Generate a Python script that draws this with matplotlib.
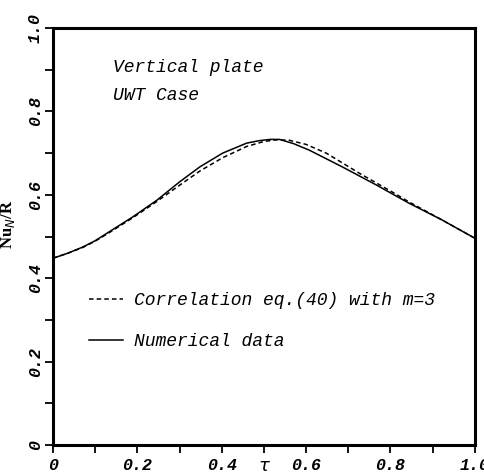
import numpy as np
import matplotlib
matplotlib.use('Agg')
from matplotlib import pyplot as plt

# values
tau_num = [0.0, 0.035, 0.071, 0.100, 0.128, 0.189, 0.246, 0.300, 0.348,
           0.402, 0.459, 0.489, 0.515, 0.537, 0.570, 0.608, 0.686, 0.766,
           0.844, 0.922, 1.0]
nu_num = [0.448, 0.460, 0.475, 0.490, 0.508, 0.547, 0.587, 0.631, 0.667,
          0.700, 0.724, 0.730, 0.733, 0.733, 0.723, 0.707, 0.667, 0.624,
          0.580, 0.540, 0.496]

tau_corr = [0.0, 0.035, 0.071, 0.100, 0.128, 0.189, 0.246, 0.300, 0.348,
            0.402, 0.459, 0.500, 0.530, 0.560, 0.600, 0.648, 0.726, 0.804,
            0.844, 0.922, 1.0]
nu_corr = [0.448, 0.460, 0.474, 0.489, 0.506, 0.545, 0.584, 0.623, 0.657,
           0.689, 0.716, 0.728, 0.732, 0.731, 0.721, 0.700, 0.652, 0.607,
           0.583, 0.540, 0.496]

xticks = [0, 0.2, 0.4, 0.6, 0.8, 1.0]
xticklabels = ['0', '0.2', '0.4', '0.6', '0.8', '1.0']
yticks = [0, 0.2, 0.4, 0.6, 0.8, 1.0]
yticklabels = ['0', '0.2', '0.4', '0.6', '0.8', '1.0']

mono = 'Liberation Mono'

fig = plt.figure(figsize=(4.84, 4.76), dpi=100)
ax = fig.add_axes([0.1095, 0.0651, 0.8715, 0.8759])

ax.plot(tau_corr, nu_corr, color='k', lw=1.1, dashes=(3, 2),
        label='Correlation eq.(40) with m=3')
ax.plot(tau_num, nu_num, color='k', lw=1.1, label='Numerical data')

ax.set_xlim(0, 1)
ax.set_ylim(0, 1)
ax.set_xticks(xticks)
ax.set_xticklabels(xticklabels, fontfamily=mono, fontstyle='italic',
                   fontsize=12, fontweight='bold')
ax.set_yticks(yticks)
ax.set_yticklabels(yticklabels, fontfamily=mono, fontstyle='italic',
                   fontsize=12, fontweight='bold', rotation=90, va='center')
ax.set_xticks(np.arange(0.1, 1.0, 0.2), minor=True)
ax.set_yticks(np.arange(0.1, 1.0, 0.2), minor=True)
ax.tick_params(which='both', direction='out', length=6, width=1.3)
ax.tick_params(axis='x', pad=3)
ax.tick_params(axis='y', pad=1.5)

for s in ax.spines.values():
    s.set_linewidth(2.2)

ax.set_xlabel('τ', fontsize=13, fontstyle='italic')
ax.xaxis.set_label_coords(0.5, -0.028)
ax.set_ylabel('Nu$_N$/R', fontfamily='Liberation Serif', fontsize=12,
              fontweight='bold')
ax.yaxis.set_label_coords(-0.085, 0.53)

ax.text(0.142, 0.906, 'Vertical plate', fontfamily=mono, fontstyle='italic',
        fontsize=13, va='center')
ax.text(0.142, 0.839, 'UWT Case', fontfamily=mono, fontstyle='italic',
        fontsize=13, va='center')

leg = ax.legend(loc='center left', bbox_to_anchor=(0.085, 0.297),
                frameon=False, borderaxespad=0, borderpad=0,
                handlelength=1.9, handletextpad=0.6, labelspacing=1.3,
                prop={'family': mono, 'style': 'italic', 'size': 13})

plt.savefig('out.png', dpi=100)
